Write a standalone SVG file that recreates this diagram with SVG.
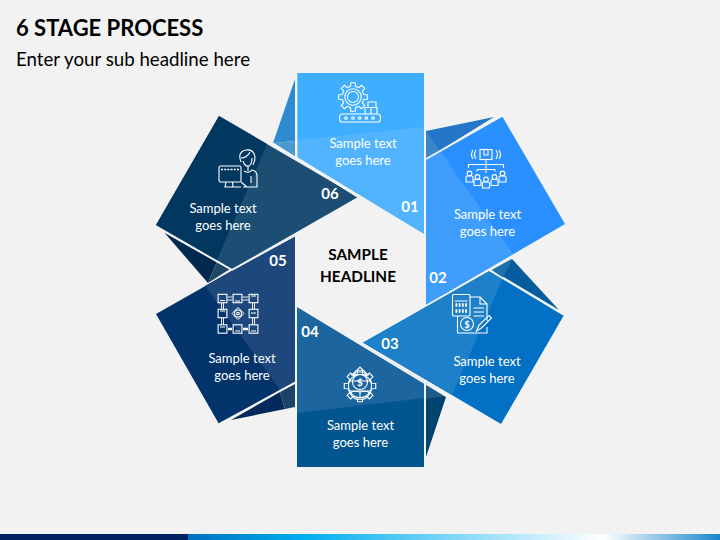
<svg xmlns="http://www.w3.org/2000/svg" width="720" height="540" viewBox="0 0 720 540">
<style>
text{font-family:"Lato","Carlito","Open Sans",sans-serif}
.t{fill:#fff;font-size:13px;text-anchor:middle}
.n{fill:#fff;font-size:15px;font-weight:700;text-anchor:middle}
.c{fill:#000;font-size:15.300px;font-weight:700;text-anchor:middle}
.e{stroke:#f4f6f8;stroke-width:1.6;fill:none}
.i{stroke:#fff;stroke-width:1.1;fill:none}
</style>
<defs>
<linearGradient id="bar" x1="0" x2="1" y1="0" y2="0">
<stop offset="0" stop-color="#0070C0"/><stop offset=".22" stop-color="#00B0F0"/><stop offset=".78" stop-color="#ffffff"/><stop offset="1" stop-color="#1a86cc"/>
</linearGradient>
<g id="person"><circle cx="0" cy="-3.6" r="2.3" class="i"/><path d="M-3.500 5V0.500Q-3.500 -1 -2 -1H2Q3.500 -1 3.500 0.500V5Z" class="i"/></g>
<g id="box"><rect x="-4.400" y="-4.200" width="8.800" height="8.400" class="i"/></g>
<path id="gear" d="M10.720-2.470L14.320-2.270V2.270L10.720 2.470L9.330 5.830L11.730 8.520L8.520 11.730L5.830 9.330L2.470 10.720L2.270 14.320H-2.270L-2.470 10.720L-5.830 9.330L-8.520 11.730L-11.730 8.520L-9.330 5.830L-10.720 2.470L-14.320 2.270V-2.270L-10.720-2.470L-9.330-5.830L-11.730-8.520L-8.520-11.730L-5.830-9.330L-2.470-10.720L-2.270-14.320H2.270L2.470-10.720L5.830-9.330L8.520-11.730L11.730-8.520L9.330-5.830Z"/>
</defs>
<rect width="720" height="540" fill="#F2F2F2"/>
<rect y="534" width="188" height="6" fill="#002060"/>
<rect x="188" y="534" width="532" height="6" fill="url(#bar)"/>
<text x="16" y="36" font-size="22" font-weight="700" fill="#000">6 STAGE PROCESS</text>
<text x="16" y="66" font-size="18.700" fill="#000">Enter your sub headline here</text>

<g id="node-01">
<polygon points="295,79 273,143 295,141" fill="#2F8BD0"/>
<polygon points="273,143 295,141 295,157" fill="#4A9AD3"/>
<polygon points="297,73 424,73 424,234 297,157" fill="#52B4FF"/>
<polygon points="297,73 424,73 424,127 297,140" fill="#3FAEFF"/>
<use href="#gear" x="353" y="97" class="i"/>
<circle cx="353" cy="97" r="8.200" class="i"/><circle cx="353" cy="97" r="5.500" class="i"/>
<rect x="339.500" y="114" width="41" height="8" rx="3" class="i"/>
<g class="i"><circle cx="346" cy="118" r="1.300"/><circle cx="353" cy="118" r="1.300"/><circle cx="359.600" cy="118" r="1.300"/><circle cx="366.300" cy="118" r="1.300"/><circle cx="373" cy="118" r="1.300"/></g>
<path class="i" d="M365 114V107.500H377V114M371 107.500V114M368 107.500V102H376V107.500"/>
<text class="t" x="363" y="148">Sample text</text><text class="t" x="363" y="165">goes here</text>
<text class="n" x="410" y="212">01</text>
</g>

<g id="node-02">
<polygon points="426,131 494,117 426,159" fill="#2477C8"/>
<polygon points="426,131 440,151 426,159" fill="#3A86C6"/>
<polygon points="426,159 502,116 565,224 426,305" fill="#2A90FF"/>
<polygon points="426,159 440,151 513,254 426,305" fill="#3F9EFB"/>
<rect x="480" y="149.500" width="12" height="10" class="i"/>
<path class="i" d="M484 149.500V155H488V149.500M476 150Q473 154.500 476 159M473 150Q470 154.500 473 159M496 150Q499 154.500 496 159M499 150Q502 154.500 499 159M486 159.500V173M468.500 165V168M468 164.500H504M503.500 165V168M477 169.500H495M477 169.500V171.500M495 169.500V171.500"/>
<use href="#person" x="469.500" y="177"/><use href="#person" x="477.500" y="180.500"/><use href="#person" x="486" y="183"/><use href="#person" x="494.500" y="180.500"/><use href="#person" x="502.500" y="177"/>
<text class="t" x="487.500" y="219">Sample text</text><text class="t" x="487.500" y="236">goes here</text>
<text class="n" x="438" y="283">02</text>
</g>

<g id="node-03">
<polygon points="492,270 512,259 559,310" fill="#045C9E"/>
<polygon points="492,270 512,259 503,278" fill="#1E70A8"/>
<polygon points="362,342 489,270 564,315 501,424" fill="#0270C4"/>
<polygon points="362,342 489,270 503,278 452,395" fill="#1D80C8"/>
<rect x="452.500" y="294.500" width="17.500" height="21.500" rx="1" class="i"/>
<path class="i" d="M455 301H467.500M470 297H480L487 304V321M480 297V304H487M457.500 316V333H487V327M473.500 308H484M473.500 312H484M473.500 316H484"/>
<path stroke="#fff" stroke-width="3.600" stroke-dasharray="1.800 1.400" fill="none" d="M455.500 305H467.500M455.500 311H467.500"/>
<circle cx="467" cy="324" r="6.500" class="i"/>
<text x="467" y="327.500" fill="#fff" font-size="9.500" font-weight="700" text-anchor="middle">$</text>
<path class="i" d="M476.500 331L479 325L489 315.500L491.500 318L481.500 328Z"/>
<text class="t" x="487" y="366">Sample text</text><text class="t" x="487" y="383">goes here</text>
<text class="n" x="390" y="349">03</text>
</g>

<g id="node-04">
<polygon points="426,383 446,397 426,457" fill="#02426F"/>
<polygon points="426,383 446,396 426,399" fill="#1F5A87"/>
<polygon points="297,306 424,382 424,467 297,467" fill="#02568F"/>
<polygon points="297,306 424,382 424,398 297,413" fill="#1D659E"/>
<use href="#gear" transform="translate(360 386) scale(1.100)" stroke="#fff" stroke-width="1" fill="none"/>
<circle cx="360" cy="386" r="11.500" class="i"/>
<path class="i" d="M349 381H371M349 391H371"/>
<circle cx="360" cy="382" r="7.500" class="i" fill="#1D659E"/>
<path class="i" d="M352 375L360 367L368 375H365V372H355V375ZM360 392Q353 390 350 393Q354 401 360 399Q366 401 370 393Q367 390 360 392V399" fill="#1D659E"/>
<text x="360" y="385.800" fill="#fff" font-size="10" font-weight="700" text-anchor="middle">$</text>
<text class="t" x="360.500" y="430">Sample text</text><text class="t" x="360.500" y="447">goes here</text>
<text class="n" x="310" y="337">04</text>
</g>

<g id="node-05">
<polygon points="231,420 280,392 285,409" fill="#022A5C"/>
<polygon points="280,392 295,384 295,407 285,409" fill="#1C4268"/>
<polygon points="156,314 295,235 295,382 219,424" fill="#02336B"/>
<polygon points="205,286 295,235 295,382 280,390" fill="#1E487C"/>
<use href="#box" x="222.500" y="298.500"/><use href="#box" x="237.500" y="298.500"/><use href="#box" x="253.500" y="298.500"/>
<use href="#box" x="222.500" y="313.500"/><use href="#box" x="253.500" y="313.500"/>
<use href="#box" x="222.500" y="329"/><use href="#box" x="237.500" y="329"/><use href="#box" x="253.500" y="329"/>
<path stroke="#fff" stroke-width=".9" fill="none" d="M227.500 297H232.500M227.500 300H232.500M242.500 297H248.500M242.500 300H248.500M221.500 303V309M223.500 303V309M252.500 303V309M254.500 303V309M221.500 318V325M223.500 318V325M252.500 318V325M254.500 318V325"/>
<path stroke="#fff" stroke-width="1" fill="none" d="M220 300.500H225M235 301H240M251 296H256M220 311H225M251 313H256M220 327H225M235 331H240M251 331H256"/>
<path stroke="#fff" stroke-width="2.500" d="M228 329H232M243 329H248" fill="none"/>
<path d="M238 307.500L244 313.500L238 319.500L232 313.500Z" stroke="#fff" stroke-width="1" fill="none"/>
<circle cx="238" cy="313.500" r="3.500" class="i"/><circle cx="238" cy="313.500" r="1.300" class="i"/>
<text class="t" x="242" y="363">Sample text</text><text class="t" x="242" y="380">goes here</text>
<text class="n" x="278" y="266">05</text>
</g>

<g id="node-06">
<polygon points="163,231 217,262 208,283" fill="#022A4E"/>
<polygon points="217,262 230,269 208,283" fill="#1C4866"/>
<polygon points="219,116 358,197 232,269 156,225" fill="#1B4E72"/>
<polygon points="219,116 267,144 217,260 156,225" fill="#023760"/>
<rect x="219" y="166" width="22" height="16" rx="1.500" class="i"/>
<path stroke="#fff" stroke-width="1.300" stroke-dasharray="2 1.200" d="M221 169.500H240" fill="none"/>
<path class="i" d="M226 182L225 187H233L232.500 182M225 187H241"/>
<path class="i" d="M241 162Q237 152 246 150Q254 149 255 157Q255 161 253 165M241 158Q247 158 250 152M243 161Q245 167 249 166Q252 164 252 158M248 166V171M244 171Q249 174 252 170Q257 171 257 176V187H243M241 182L247 187M251 176V183"/>
<text class="t" x="223" y="213">Sample text</text><text class="t" x="223" y="230">goes here</text>
<text class="n" x="330" y="199">06</text>
</g>

<g id="edges">
<path class="e" d="M296.500 73V157M273 143.500L358 197M425 131V234M426 159L502 116M362 342L489 270M489 270L564 315M297 306L446 396M425 382V457M296 235V382M219 424L296 382M232 270L296 235M163 231L232 270"/>
</g>

<g id="center">
<text class="c" x="358" y="260">SAMPLE</text>
<text class="c" x="358" y="282">HEADLINE</text>
</g>
</svg>
